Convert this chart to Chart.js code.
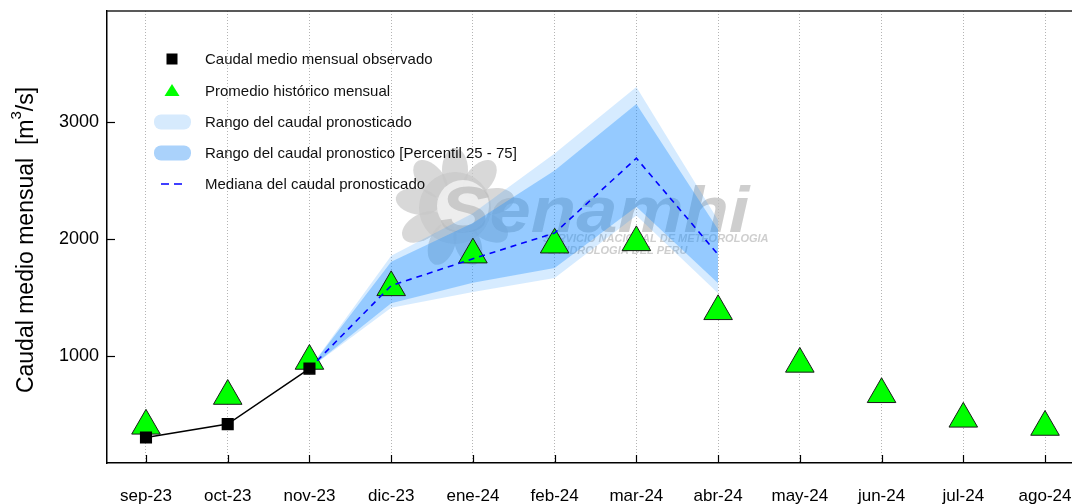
<!DOCTYPE html>
<html lang="es">
<head>
<meta charset="UTF-8">
<title>Caudal medio mensual - pronóstico</title>
<script src="https://cdn.jsdelivr.net/npm/chart.js"></script>
<style>
  html, body { margin: 0; padding: 0; background: #fff; overflow: hidden; }
  #wrap { width: 1072px; height: 504px; position: relative; }
  canvas { display: block; }
</style>
</head>
<body>
<div id="wrap"><canvas id="grafico"></canvas></div>
<script>
// meses del eje x
const meses = ['sep-23', 'oct-23', 'nov-23', 'dic-23', 'ene-24', 'feb-24',
               'mar-24', 'abr-24', 'may-24', 'jun-24', 'jul-24', 'ago-24'];

// caudal observado (sep-23 a nov-23)
const observado = [300, 415, 890];

// promedio historico mensual
const historico = [400, 655, 955, 1585, 1865, 1950, 1970, 1380, 930, 670, 460, 390];

// pronostico: de nov-23 (indice 2) a abr-24
const inicioPron = 2;
const rangoMax = [890, 1855, 2220, 2730, 3300, 2160];
const p75      = [890, 1805, 2135, 2585, 3155, 2080];
const mediana  = [890, 1600, 1830, 2050, 2690, 1865];
const p25      = [890, 1450, 1625, 1750, 2275, 1620];
const rangoMin = [890, 1410, 1545, 1665, 2200, 1535];

const ticksY = [1000, 2000, 3000];

const FUENTE = '"Liberation Sans", Arial, sans-serif';

function puntos(arr, desde) {
    return arr.map((v, i) => ({ x: i + desde, y: v }));
}

// marca de agua tipo logo
const marcaAgua = {
    id: 'marcaAgua',
    beforeDatasetsDraw(chart) {
        const ctx = chart.ctx;
        ctx.save();
        // "sol"
        ctx.fillStyle = 'rgba(200,200,200,0.7)';
        const cx = 455, cy = 208;
        for (let k = 0; k < 9; k++) {
            const a = -Math.PI / 2 + k * (2 * Math.PI / 9);
            ctx.beginPath();
            ctx.ellipse(cx + Math.cos(a) * 38, cy + Math.sin(a) * 38, 22, 13, a, 0, 2 * Math.PI);
            ctx.fill();
        }
        ctx.beginPath();
        ctx.arc(cx, cy, 36, 0, 2 * Math.PI);
        ctx.fill();
        ctx.fillStyle = 'rgba(240,240,240,0.9)';
        ctx.beginPath();
        ctx.arc(cx + 8, cy - 2, 26, 0, 2 * Math.PI);
        ctx.fill();
        // texto
        ctx.fillStyle = 'rgba(190,190,190,0.75)';
        ctx.font = 'italic bold 64px ' + FUENTE;
        ctx.textBaseline = 'alphabetic';
        ctx.save();
        ctx.translate(440, 232);
        ctx.scale(1.16, 1);
        ctx.fillText('Senamhi', 0, 0);
        ctx.restore();
        ctx.font = 'italic bold 11px ' + FUENTE;
        ctx.fillText('SERVICIO NACIONAL DE METEOROLOGIA', 543, 242);
        ctx.fillText('E HIDROLOGIA DEL PERU', 548, 254);
        ctx.restore();
    }
};

// bordes, marcas hacia adentro, leyenda y titulo del eje y
const extras = {
    id: 'extras',
    afterDraw(chart) {
        const ctx = chart.ctx;
        const a = chart.chartArea;
        const sx = chart.scales.x, sy = chart.scales.y;
        ctx.save();
        // borde superior
        ctx.strokeStyle = '#222';
        ctx.lineWidth = 1.5;
        ctx.beginPath();
        ctx.moveTo(a.left, a.top);
        ctx.lineTo(a.right, a.top);
        ctx.stroke();
        // marcas
        ctx.strokeStyle = '#000';
        ctx.lineWidth = 1.2;
        meses.forEach((m, i) => {
            const x = Math.round(sx.getPixelForValue(i)) + 0.5;
            ctx.beginPath();
            ctx.moveTo(x, a.bottom);
            ctx.lineTo(x, a.bottom - 8);
            ctx.stroke();
        });
        ticksY.forEach(v => {
            const y = Math.round(sy.getPixelForValue(v)) + 0.5;
            ctx.beginPath();
            ctx.moveTo(a.left, y);
            ctx.lineTo(a.left + 8, y);
            ctx.stroke();
        });

        // leyenda
        const lx = 172, tx = 205;
        const filas = [59, 91, 122, 153, 184];
        ctx.fillStyle = '#000';
        ctx.fillRect(lx - 5.5, filas[0] - 5.5, 11, 11);
        ctx.fillStyle = '#00ff00';
        ctx.beginPath();
        ctx.moveTo(lx, filas[1] - 7);
        ctx.lineTo(lx + 7.5, filas[1] + 5);
        ctx.lineTo(lx - 7.5, filas[1] + 5);
        ctx.closePath();
        ctx.fill();
        const pastilla = (y, color) => {
            ctx.fillStyle = color;
            ctx.beginPath();
            ctx.roundRect(lx - 18, y - 7.5, 37, 15, 7);
            ctx.fill();
        };
        pastilla(filas[2], 'rgb(214,234,253)');
        pastilla(filas[3], 'rgb(170,210,251)');
        ctx.strokeStyle = '#0000ff';
        ctx.lineWidth = 1.5;
        ctx.beginPath();
        ctx.moveTo(lx - 11, filas[4]); ctx.lineTo(lx - 3, filas[4]);
        ctx.moveTo(lx + 2, filas[4]); ctx.lineTo(lx + 10, filas[4]);
        ctx.stroke();
        const textos = ['Caudal medio mensual observado', 'Promedio histórico mensual',
                        'Rango del caudal pronosticado', 'Rango del caudal pronostico [Percentil 25 - 75]',
                        'Mediana del caudal pronosticado'];
        ctx.fillStyle = '#111';
        ctx.font = '15px ' + FUENTE;
        ctx.textBaseline = 'middle';
        textos.forEach((t, i) => ctx.fillText(t, tx, filas[i] + 1));

        // titulo eje y con superindice
        ctx.translate(33, 240);
        ctx.rotate(-Math.PI / 2);
        ctx.textBaseline = 'alphabetic';
        const f1 = '23px ' + FUENTE, f2 = '15px ' + FUENTE;
        const p1 = 'Caudal medio mensual  [m', p2 = '3', p3 = '/s]';
        ctx.font = f1;
        const w1 = ctx.measureText(p1).width, w3 = ctx.measureText(p3).width;
        ctx.font = f2;
        const w2 = ctx.measureText(p2).width;
        let x0 = -(w1 + w2 + w3) / 2;
        ctx.fillStyle = '#000';
        ctx.font = f1; ctx.fillText(p1, x0, 0); x0 += w1;
        ctx.font = f2; ctx.fillText(p2, x0, -12); x0 += w2;
        ctx.font = f1; ctx.fillText(p3, x0, 0);
        ctx.restore();
    }
};

const sinPunto = { pointRadius: 0, pointHoverRadius: 0, borderWidth: 0, borderColor: 'transparent' };

new Chart(document.getElementById('grafico'), {
    type: 'line',
    data: {
        datasets: [
            {
                label: 'Caudal medio mensual observado',
                data: puntos(observado, 0),
                borderColor: '#000',
                borderWidth: 1.5,
                pointStyle: 'rect',
                pointRadius: 7.5,
                pointBackgroundColor: '#000',
                pointBorderColor: '#000',
                tension: 0
            },
            {
                label: 'Mediana del caudal pronosticado',
                data: puntos(mediana, inicioPron),
                borderColor: '#0000ff',
                borderWidth: 1.6,
                borderDash: [6, 5],
                pointRadius: 0,
                tension: 0
            },
            {
                label: 'Promedio histórico mensual',
                data: puntos(historico, 0),
                showLine: false,
                pointStyle: 'triangle',
                pointRadius: 16.5,
                pointBackgroundColor: '#00ff00',
                pointBorderColor: '#1a1a1a',
                pointBorderWidth: 1
            },
            Object.assign({
                label: 'p75',
                data: puntos(p75, inicioPron),
                fill: '+1',
                backgroundColor: 'rgba(30,144,255,0.35)'
            }, sinPunto),
            Object.assign({
                label: 'p25',
                data: puntos(p25, inicioPron),
                fill: false
            }, sinPunto),
            Object.assign({
                label: 'max',
                data: puntos(rangoMax, inicioPron),
                fill: '+1',
                backgroundColor: 'rgba(30,144,255,0.18)'
            }, sinPunto),
            Object.assign({
                label: 'min',
                data: puntos(rangoMin, inicioPron),
                fill: false
            }, sinPunto)
        ]
    },
    options: {
        responsive: true,
        maintainAspectRatio: false,
        animation: false,
        layout: { autoPadding: false, padding: { top: 11, left: 0, right: 0, bottom: 0 } },
        plugins: {
            legend: { display: false },
            tooltip: { enabled: false }
        },
        scales: {
            x: {
                type: 'linear',
                min: -0.477,
                max: 11.33,
                afterBuildTicks: s => { s.ticks = meses.map((m, i) => ({ value: i })); },
                afterFit: s => { s.height = 41; s.paddingLeft = 0; s.paddingRight = 0; },
                ticks: {
                    callback: v => meses[v] ?? '',
                    font: { size: 17, family: FUENTE },
                    color: '#000',
                    padding: 23,
                    maxRotation: 0,
                    autoSkip: false
                },
                grid: { color: '#b4b4b4', lineWidth: 1, drawTicks: false },
                border: { display: true, color: '#000', width: 1.5, dash: [1, 2] }
            },
            y: {
                type: 'linear',
                min: 82,
                max: 3950,
                afterBuildTicks: s => { s.ticks = ticksY.map(v => ({ value: v })); },
                afterFit: s => { s.width = 107; s.paddingTop = 0; s.paddingBottom = 0; },
                ticks: {
                    callback: v => String(v),
                    font: { size: 18, family: FUENTE },
                    color: '#000',
                    padding: 8
                },
                grid: { display: false, drawTicks: false },
                border: { display: true, color: '#000', width: 1.5 }
            }
        }
    },
    plugins: [marcaAgua, extras]
});
</script>
</body>
</html>
